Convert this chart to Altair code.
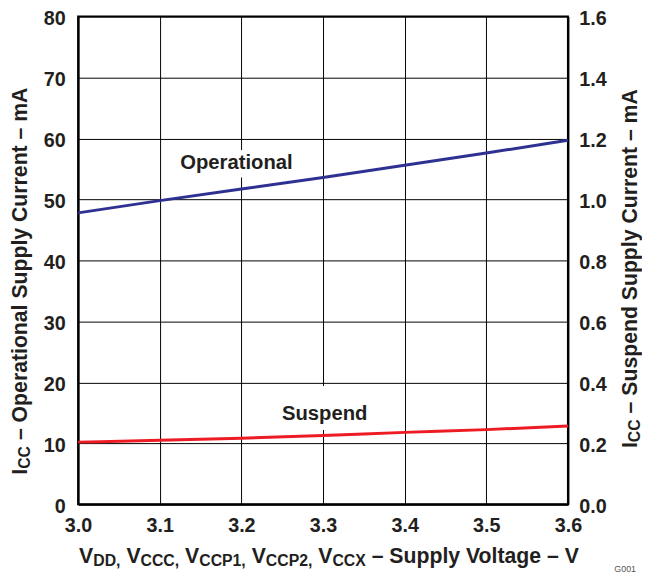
import altair as alt
import pandas as pd

# ---- data ----
voltage = [3.0, 3.1, 3.2, 3.3, 3.4, 3.5, 3.6]
operational_ma = [47.8, 49.8, 51.7, 53.6, 55.6, 57.6, 59.7]
suspend_ma = [0.204, 0.210, 0.217, 0.226, 0.236, 0.245, 0.257]

x_ticks = [3.0, 3.1, 3.2, 3.3, 3.4, 3.5, 3.6]
left_ticks = [0, 10, 20, 30, 40, 50, 60, 70, 80]
right_ticks = [0.0, 0.2, 0.4, 0.6, 0.8, 1.0, 1.2, 1.4, 1.6]

series_labels = ["Operational", "Suspend"]
label_x = [3.194, 3.302]
label_y = [55.0, 13.8]          # left-axis units
box_x1 = [3.12, 3.245]
box_x2 = [3.262, 3.36]
box_y1 = [53.6, 12.2]
box_y2 = [58.1, 19.4]

FONT = "Liberation Sans"
INK = "#231F20"

# Arial / Liberation Sans Bold advance widths (1/1000 em)
W = {" ": 278, ",": 278, ".": 278, "\u2013": 556, "1": 556, "2": 556,
     "A": 722, "C": 722, "D": 722, "I": 278, "O": 778, "P": 667, "S": 667,
     "V": 667, "X": 667, "a": 556, "c": 556, "d": 611, "e": 556, "g": 611,
     "i": 278, "l": 278, "m": 889, "n": 611, "o": 611, "p": 611, "r": 389,
     "s": 556, "t": 333, "u": 611, "y": 556}


def tw(s, size):
    return sum(W.get(c, 556) for c in s) * size / 1000.0


def one_row():
    return pd.DataFrame({"k": [0]})


def title_marks(segments, x0, y0, main, sub, shift, vertical):
    marks = []
    pos = 0.0
    for text, is_sub in segments:
        size = sub if is_sub else main
        lead = len(text) - len(text.lstrip(" "))
        pos += tw(" " * lead, size)
        body = text.lstrip(" ")
        if vertical:
            px = x0 + (shift if is_sub else 0)
            py = y0 - pos
            ang = 270
        else:
            px = x0 + pos
            py = y0 + (shift if is_sub else 0)
            ang = 0
        marks.append(
            alt.Chart(one_row()).mark_text(
                text=body, font=FONT, fontWeight="bold", fontSize=size,
                color=INK, align="left", baseline="alphabetic", angle=ang
            ).encode(x=alt.value(px), y=alt.value(py))
        )
        pos += tw(body, size)
    return marks


df = pd.DataFrame({"voltage": voltage, "operational": operational_ma,
                   "suspend": suspend_ma})
lab = pd.DataFrame({"name": series_labels, "lx": label_x, "ly": label_y,
                    "bx1": box_x1, "bx2": box_x2, "by1": box_y1, "by2": box_y2})

xscale = alt.Scale(domain=[3.0, 3.6], nice=False, zero=False)
xaxis = alt.Axis(values=x_ticks, format=".1f", title=None, grid=True,
                 labelPadding=12, labelFlush=False)
lscale = alt.Scale(domain=[0, 80], nice=False, zero=True)
laxis = alt.Axis(values=left_ticks, format="d", title=None, grid=True,
                 labelPadding=13, orient="left", labelOffset=2)

boxes = alt.Chart(lab).mark_rect(fill="white").encode(
    x=alt.X("bx1:Q", scale=xscale, axis=xaxis), x2="bx2:Q",
    y=alt.Y("by1:Q", scale=lscale, axis=laxis), y2="by2:Q",
)

op_line = alt.Chart(df).mark_line(color="#2E3192", strokeWidth=3).encode(
    x=alt.X("voltage:Q", scale=xscale, axis=xaxis),
    y=alt.Y("operational:Q", scale=lscale, axis=laxis),
)

labels = alt.Chart(lab).mark_text(
    font=FONT, fontWeight="bold", fontSize=20.5, color=INK,
    align="center", baseline="alphabetic"
).encode(
    x=alt.X("lx:Q", scale=xscale, axis=xaxis),
    y=alt.Y("ly:Q", scale=lscale, axis=laxis),
    text="name:N",
)

x_title = title_marks(
    [("V", False), ("DD,", True), (" V", False), ("CCC,", True),
     (" V", False), ("CCP1,", True), (" V", False), ("CCP2,", True),
     (" V", False), ("CCX", True), (" \u2013 Supply Voltage \u2013 V", False)],
    x0=1, y0=553, main=21.5, sub=16, shift=3.3, vertical=False)

left_title = title_marks(
    [("I", False), ("CC", True),
     (" \u2013 Operational Supply Current \u2013 mA", False)],
    x0=-52, y0=464, main=21.5, sub=16, shift=3.3, vertical=True)

right_title = title_marks(
    [("I", False), ("CC", True),
     (" \u2013 Suspend Supply Current \u2013 mA", False)],
    x0=566, y0=437, main=21.5, sub=16, shift=3.3, vertical=True)

fig_id = alt.Chart(one_row()).mark_text(
    text="G001", font=FONT, fontSize=9, color="#555555", align="left",
    baseline="alphabetic"
).encode(x=alt.value(543), y=alt.value(563))

left_group = alt.layer(boxes, op_line, labels, *x_title, *left_title,
                       *right_title, fig_id)

susp_line = alt.Chart(df).mark_line(
    color="#ED1C24", strokeWidth=3, interpolate="monotone"
).encode(
    x=alt.X("voltage:Q", scale=xscale, axis=xaxis),
    y=alt.Y("suspend:Q", scale=alt.Scale(domain=[0, 1.6], nice=False),
            axis=alt.Axis(values=right_ticks, format=".1f", title=None,
                          grid=False, orient="right", labelPadding=11,
                          labelOffset=2)),
)

chart = alt.layer(left_group, susp_line).resolve_scale(
    y="independent"
).properties(
    width=496, height=494,
    padding={"left": 71, "top": 5, "right": 75, "bottom": 71},
    autosize=alt.AutoSizeParams(type="none"),
).configure_view(
    stroke="black", strokeWidth=2
).configure_axis(
    labelFont=FONT, labelFontWeight="bold", labelFontSize=20,
    labelColor=INK, domainColor="black", domainWidth=2,
    gridColor="black", gridWidth=1, gridOpacity=1, ticks=False, tickSize=0,
)

chart.save("out.html", embed_options={"renderer": "svg", "actions": False})
